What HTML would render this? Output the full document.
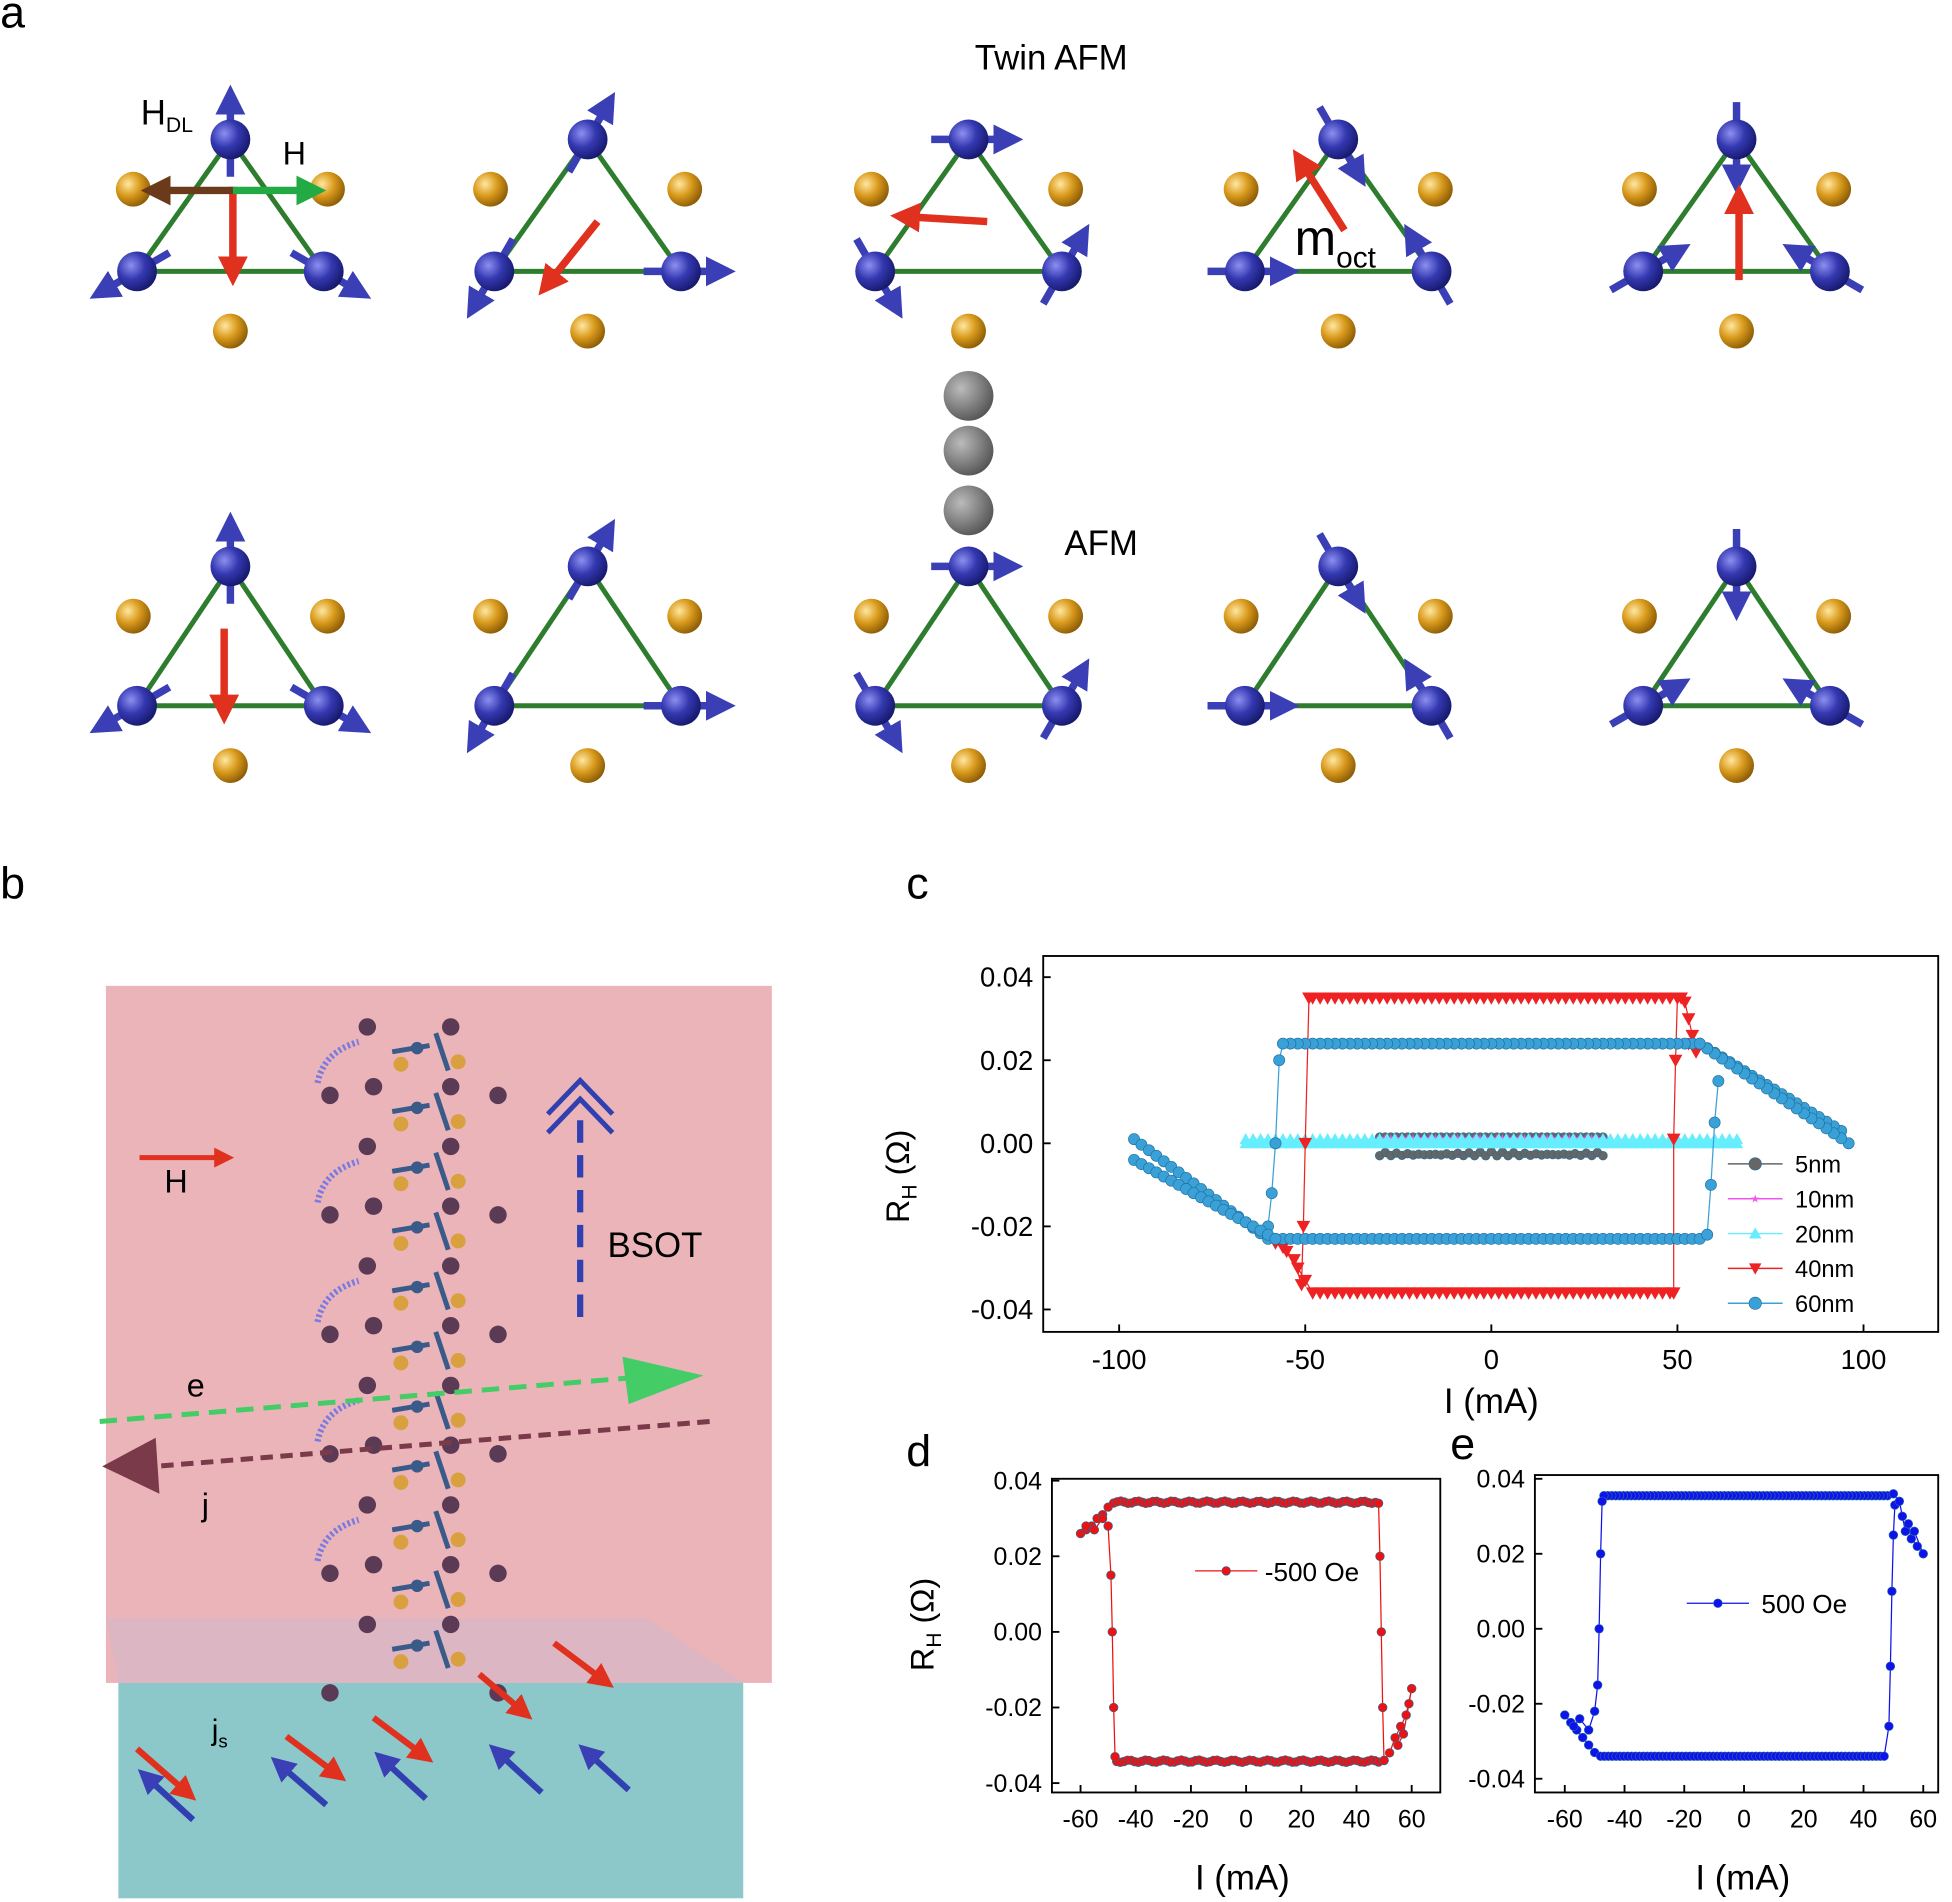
<!DOCTYPE html>
<html><head><meta charset="utf-8"><style>
html,body{margin:0;padding:0;background:#fff;}
svg{display:block;font-family:"Liberation Sans",Arial,sans-serif;}
</style></head><body>
<svg id="s" width="1952" height="1902" viewBox="0 0 1568 1528" xmlns="http://www.w3.org/2000/svg">
<defs>
<radialGradient id="gold" cx="0.35" cy="0.35" r="0.7"><stop offset="0" stop-color="#ffe7a0"/><stop offset="0.5" stop-color="#d99a1c"/><stop offset="1" stop-color="#8a5a05"/></radialGradient>
<radialGradient id="blue" cx="0.35" cy="0.35" r="0.7"><stop offset="0" stop-color="#8c8ff0"/><stop offset="0.5" stop-color="#3438b0"/><stop offset="1" stop-color="#15186a"/></radialGradient>
<radialGradient id="gray" cx="0.35" cy="0.35" r="0.7"><stop offset="0" stop-color="#bbb"/><stop offset="1" stop-color="#555"/></radialGradient>
<marker id="ab" markerWidth="4" markerHeight="4" refX="2" refY="2" orient="auto"><path d="M0,0L4,2L0,4z" fill="#3a3fb5"/></marker>
<marker id="ar" markerWidth="4" markerHeight="4" refX="2" refY="2" orient="auto"><path d="M0,0L4,2L0,4z" fill="#e0301e"/></marker>
<marker id="ag" markerWidth="4" markerHeight="4" refX="2" refY="2" orient="auto"><path d="M0,0L4,2L0,4z" fill="#22aa44"/></marker>
<marker id="abr" markerWidth="4" markerHeight="4" refX="2" refY="2" orient="auto"><path d="M0,0L4,2L0,4z" fill="#6b3a1a"/></marker>
</defs>
<g id="a"></g>
<text x="0" y="22" font-size="36">a</text>
<text x="783" y="56" font-size="28">Twin AFM</text>
<text x="855" y="446" font-size="28">AFM</text>
<text x="113" y="100" font-size="28">H<tspan font-size="17" dy="6">DL</tspan></text>
<text x="227" y="132" font-size="26">H</text>
<text x="1040" y="205" font-size="40">m<tspan font-size="24" dy="10">oct</tspan></text>

<text x="0" y="722" font-size="36">b</text>
<rect x="85" y="792" width="535" height="560" fill="#e7a7ad" opacity="0.85"/>
<rect x="95" y="1352" width="502" height="173" fill="#8cc7c9"/>
<polygon points="95,1352 597,1352 520,1300 85,1300" fill="#d8b7c4" opacity="0.8"/>
<g id="b"></g>
<text x="488" y="1010" font-size="28">BSOT</text>
<text x="132" y="958" font-size="26">H</text>
<text x="150" y="1122" font-size="26">e</text>
<text x="162" y="1218" font-size="26">j</text>
<text x="170" y="1398" font-size="24">j<tspan font-size="15" dy="6">s</tspan></text>
<line x1="112" y1="930" x2="180" y2="930" stroke="#e0301e" stroke-width="4" marker-end="url(#ar)"/>
<line x1="80" y1="1142" x2="530" y2="1105" stroke="#44cc66" stroke-width="4" stroke-dasharray="14,8"/>
<polygon points="500,1090 565,1105 505,1128" fill="#44cc66"/>
<line x1="570" y1="1142" x2="125" y2="1178" stroke="#7a3a4a" stroke-width="4" stroke-dasharray="10,6"/>
<polygon points="82,1178 125,1155 128,1200" fill="#7a3a4a"/>
<line x1="466" y1="1058" x2="466" y2="900" stroke="#3040b0" stroke-width="5" stroke-dasharray="18,10"/>
<path d="M440,895 L466,868 L492,895 M440,910 L466,883 L492,910" stroke="#3040b0" stroke-width="4" fill="none"/>

<text x="728" y="722" font-size="36">c</text>
<rect x="838" y="768" width="719" height="302" fill="none" stroke="#000" stroke-width="1.5"/>
<g id="c"></g>
<text x="710" y="925" font-size="26" transform="rotate(-90 730 925)" text-anchor="middle">R<tspan font-size="17" dy="6">H</tspan><tspan dy="-6"> (Ω)</tspan></text>
<text x="1198" y="1135" font-size="28" text-anchor="middle">I (mA)</text>

<text x="728" y="1178" font-size="36">d</text>
<rect x="845" y="1188" width="312" height="252" fill="none" stroke="#000" stroke-width="1.5"/>
<g id="d"></g>
<text x="745" y="1300" font-size="26" transform="rotate(-90 750 1300)" text-anchor="middle">R<tspan font-size="17" dy="6">H</tspan><tspan dy="-6"> (Ω)</tspan></text>
<text x="998" y="1518" font-size="28" text-anchor="middle">I (mA)</text>

<text x="1165" y="1172" font-size="36">e</text>
<rect x="1233" y="1185" width="324" height="255" fill="none" stroke="#000" stroke-width="1.5"/>
<g id="e"></g>
<text x="1400" y="1518" font-size="28" text-anchor="middle">I (mA)</text>
</svg>
<script>
var NS="http://www.w3.org/2000/svg";
function el(p,t,a,txt){var e=document.createElementNS(NS,t);for(var k in a)e.setAttribute(k,a[k]);if(txt!==undefined)e.textContent=txt;p.appendChild(e);return e;}
var A=document.getElementById('a');
var cols=[185,472,778,1075,1395];
function tri(cx,ay,by,spin){
 el(A,'polygon',{points:(cx)+','+ay+' '+(cx-75)+','+by+' '+(cx+75)+','+by,fill:'none',stroke:'#2e7d2e','stroke-width':4});
 el(A,'circle',{cx:cx-78,cy:ay+40,r:14,fill:'url(#gold)'});
 el(A,'circle',{cx:cx+78,cy:ay+40,r:14,fill:'url(#gold)'});
 el(A,'circle',{cx:cx,cy:by+48,r:14,fill:'url(#gold)'});
 var pts=[[cx,ay],[cx-75,by],[cx+75,by]];
 var base=[-90,150,30];
 for(var i=0;i<3;i++){
  var ang=(base[i]+spin*(i==0?1:-1))*Math.PI/180;
  var x=pts[i][0],y=pts[i][1];
  el(A,'line',{x1:x-30*Math.cos(ang),y1:y-30*Math.sin(ang),x2:x+32*Math.cos(ang),y2:y+32*Math.sin(ang),stroke:'#3a3fb5','stroke-width':6,'marker-end':'url(#ab)'});
  el(A,'circle',{cx:x,cy:y,r:16,fill:'url(#blue)'});
 }
}
var spins=[0,30,90,150,180];
for(var i=0;i<5;i++){tri(cols[i],112,218,spins[i]);tri(cols[i],455,567,spins[i]);}
[318,362,410].forEach(function(y){el(A,'circle',{cx:778,cy:y,r:20,fill:'url(#gray)'});});
var reds=[[187,150,187,218],[480,178,440,228],[793,178,727,174],[1080,185,1045,130],[1397,225,1397,160],[180,505,180,570]];
reds.forEach(function(r){el(A,'line',{x1:r[0],y1:r[1],x2:r[2],y2:r[3],stroke:'#e0301e','stroke-width':6,'marker-end':'url(#ar)'});});
el(A,'line',{x1:187,y1:153,x2:250,y2:153,stroke:'#22aa44','stroke-width':6,'marker-end':'url(#ag)'});
el(A,'line',{x1:187,y1:153,x2:125,y2:153,stroke:'#6b3a1a','stroke-width':6,'marker-end':'url(#abr)'});

var B=document.getElementById('b');
for(var k=0;k<11;k++){
 var y=825+k*48;
 el(B,'circle',{cx:(k%2?300:295),cy:y,r:7,fill:'#5a3a55'});
 el(B,'circle',{cx:362,cy:y,r:7,fill:'#5a3a55'});
 el(B,'circle',{cx:322,cy:y+30,r:6,fill:'#d9a040'});
 el(B,'circle',{cx:368,cy:y+28,r:6,fill:'#d9a040'});
 el(B,'line',{x1:315,y1:y+20,x2:345,y2:y+15,stroke:'#3a5a8a','stroke-width':4});
 el(B,'circle',{cx:335,cy:y+17,r:5,fill:'#3a5a8a'});
 el(B,'line',{x1:350,y1:y+5,x2:360,y2:y+35,stroke:'#3a5a8a','stroke-width':4});
 if(k%2==0){el(B,'circle',{cx:265,cy:y+55,r:7,fill:'#5a3a55'});el(B,'circle',{cx:400,cy:y+55,r:7,fill:'#5a3a55'});}
 if(k<9&&k%2==0) el(B,'path',{d:'M255,'+(y+45)+' Q260,'+(y+20)+' 288,'+(y+12),stroke:'#7a7ae0','stroke-width':5,fill:'none','stroke-dasharray':'2,2'});
}
[[110,1405,150,1440,'#e0301e'],[155,1462,118,1428,'#3040b0'],[230,1395,270,1425,'#e0301e'],[262,1450,225,1418,'#3040b0'],[300,1380,340,1410,'#e0301e'],[342,1445,308,1414,'#3040b0'],[385,1345,420,1375,'#e0301e'],[435,1440,400,1408,'#3040b0'],[445,1320,485,1350,'#e0301e'],[505,1438,472,1408,'#3040b0']].forEach(function(a){
 el(B,'line',{x1:a[0],y1:a[1],x2:a[2],y2:a[3],stroke:a[4],'stroke-width':5,'marker-end':a[4]=='#e0301e'?'url(#ar)':'url(#ab)'});
});

function mk(g,sx,sy,series,shape,color,sz){
 var d='';series.forEach(function(p,i){d+=(i?'L':'M')+sx(p[0]).toFixed(1)+','+sy(p[1]).toFixed(1);});
 el(g,'path',{d:d,fill:'none',stroke:color,'stroke-width':1});
 series.forEach(function(p){var x=sx(p[0]),y=sy(p[1]);marker(g,x,y,shape,color,sz);});
}
function marker(g,x,y,shape,color,sz){
 if(shape=='c')el(g,'circle',{cx:x,cy:y,r:sz,fill:color,stroke:'#1f6f99','stroke-width':0.5});
 else if(shape=='v')el(g,'polygon',{points:(x-sz)+','+(y-sz*0.8)+' '+(x+sz)+','+(y-sz*0.8)+' '+x+','+(y+sz),fill:color});
 else if(shape=='^')el(g,'polygon',{points:(x-sz)+','+(y+sz*0.8)+' '+(x+sz)+','+(y+sz*0.8)+' '+x+','+(y-sz),fill:color});
 else if(shape=='s')el(g,'text',{x:x,y:y+sz,'font-size':sz*3,'text-anchor':'middle',fill:color},'★');
}
function rng(a,b,st,f){var r=[];for(var x=a;(st>0?x<=b:x>=b);x+=st)r.push([x,f(x)]);return r;}
function axes(g,sx,sy,xt,yt,fx,fy,x0,x1,y0,y1,fs){
 xt.forEach(function(v){var x=sx(v);el(g,'line',{x1:x,y1:y1,x2:x,y2:y1-6,stroke:'#000','stroke-width':1.5});el(g,'text',{x:x,y:y1+fs+8,'font-size':fs,'text-anchor':'middle'},String(v));});
 yt.forEach(function(v){var y=sy(v);el(g,'line',{x1:x0,y1:y,x2:x0+6,y2:y,stroke:'#000','stroke-width':1.5});el(g,'text',{x:x0-8,y:y+fs*0.35,'font-size':fs,'text-anchor':'end'},v.toFixed(2));});
}
var C=document.getElementById('c');
var cx=function(v){return 1198+v*2.99;}, cy=function(v){return 918.5-v*3337;};
axes(C,cx,cy,[-100,-50,0,50,100],[0.04,0.02,0,-0.02,-0.04],0,0,838,1557,768,1070,22);
mk(C,cx,cy,rng(-30,30,1.5,function(x){return -0.002-0.001*Math.abs(Math.sin(x));}),'c','#666',3.5);
mk(C,cx,cy,rng(-30,30,1.5,function(){return 0.0015;}),'c','#666',3.5);
mk(C,cx,cy,rng(-30,30,1.5,function(){return 0.0012;}),'s','#ee55ee',3);
mk(C,cx,cy,rng(-66,66,2,function(){return 0.001;}),'^','#66eeff',5);
mk(C,cx,cy,rng(66,-66,-2,function(){return 0.0;}),'^','#66eeff',5);
var r40=[[-58,-0.024],[-55,-0.026],[-52,-0.03],[-50,-0.033]].concat(rng(-48,48,2,function(){return -0.036;}),[[49,-0.036],[49,0.001],[49.5,0.02],[50,0.035]]);
var r40b=rng(50,-48,-2,function(){return 0.035;}).concat([[-49,0.035],[-50,0.0],[-50.5,-0.02],[-51,-0.034],[-53,-0.028],[-56,-0.025]]);
var r40c=[[51,0.035],[52,0.034],[53,0.03],[54,0.026],[55,0.022],[53,0.024]];
mk(C,cx,cy,r40,'v','#ee2222',5.5);mk(C,cx,cy,r40b,'v','#ee2222',5.5);mk(C,cx,cy,r40c,'v','#ee2222',5.5);
var l1=rng(-96,-60,2,function(x){return 0.001+(x+96)*(-0.024/36);}).concat(rng(-58,56,2,function(){return -0.023;}),[[58,-0.022],[59,-0.01],[60,0.005],[61,0.015]]);
var l2=rng(94,56,-2,function(x){return 0.003+(94-x)*(0.021/38);}).concat(rng(54,-56,-2,function(){return 0.024;}),[[-57,0.02],[-58,0.0],[-59,-0.012],[-60,-0.02]]);
var l3=rng(-96,-58,2,function(x){return -0.004+(x+96)*(-0.019/38);});
var l4=rng(96,56,-2,function(x){return 0.0+(96-x)*(0.024/40);});
mk(C,cx,cy,l1,'c','#3aa0d8',4.5);mk(C,cx,cy,l2,'c','#3aa0d8',4.5);mk(C,cx,cy,l3,'c','#3aa0d8',4.5);mk(C,cx,cy,l4,'c','#3aa0d8',4.5);
var leg=[['5nm','c','#666'],['10nm','s','#ee55ee'],['20nm','^','#66eeff'],['40nm','v','#ee2222'],['60nm','c','#3aa0d8']];
leg.forEach(function(l,i){var y=935+i*28;el(C,'line',{x1:1388,y1:y,x2:1432,y2:y,stroke:l[2],'stroke-width':1.2});marker(C,1410,y,l[1],l[2],l[1]=='s'?3:5);el(C,'text',{x:1442,y:y+7,'font-size':19},l[0]);});
var D=document.getElementById('d');
var dx=function(v){return 1001+v*2.217;}, dy=function(v){return 1311-v*3037;};
axes(D,dx,dy,[-60,-40,-20,0,20,40,60],[0.04,0.02,0,-0.02,-0.04],0,0,845,1157,1188,1440,20);
var d1=[[-60,0.026],[-58,0.027],[-56,0.028],[-54,0.03],[-52,0.031],[-50,0.033]].concat(rng(-48,47,1.3,function(x){return 0.0343-0.0003*Math.sin(x);}),[[48,0.034],[48.5,0.02],[49,0.0],[49.5,-0.02],[50,-0.034]]);
var d2=rng(48,-47,-1.3,function(x){return -0.0342+0.0003*Math.sin(x);}).concat([[-47.5,-0.033],[-48,-0.02],[-48.5,0.0],[-49,0.015],[-50,0.028],[-52,0.03],[-55,0.027],[-58,0.028]]);
var d3=[[50,-0.034],[52,-0.032],[54,-0.028],[56,-0.025],[58,-0.022],[60,-0.015],[59,-0.019],[57,-0.027],[55,-0.03]];
mk(D,dx,dy,d1,'c','#ee1111',3.5);mk(D,dx,dy,d2,'c','#ee1111',3.5);mk(D,dx,dy,d3,'c','#ee1111',3.5);
el(D,'line',{x1:960,y1:1262,x2:1010,y2:1262,stroke:'#ee1111','stroke-width':1});marker(D,985,1262,'c','#ee1111',3.5);
el(D,'text',{x:1016,y:1270,'font-size':21},'-500 Oe');
var E=document.getElementById('e');
var ex=function(v){return 1401+v*2.4;}, ey=function(v){return 1308.5-v*3012;};
axes(E,ex,ey,[-60,-40,-20,0,20,40,60],[0.04,0.02,0,-0.02,-0.04],0,0,1233,1557,1185,1440,20);
var e1=[[-60,-0.023],[-58,-0.025],[-56,-0.027],[-54,-0.029],[-52,-0.031]].concat([[-50,-0.033]],rng(-48,48,1.3,function(){return -0.034;}),[[48.5,-0.026],[49,-0.01],[49.5,0.01],[50,0.025],[50.5,0.033]]);
var e2=rng(48,-47,-1.3,function(){return 0.0355;}).concat([[-47.5,0.034],[-48,0.02],[-48.5,0.0],[-49,-0.015],[-50,-0.022],[-52,-0.027],[-55,-0.024],[-57,-0.026]]);
var e3=[[50,0.036],[52,0.034],[53,0.03],[54,0.026],[55,0.028],[56,0.024],[58,0.022],[60,0.02],[57,0.026]];
mk(E,ex,ey,e1,'c','#1111ee',3.5);mk(E,ex,ey,e2,'c','#1111ee',3.5);mk(E,ex,ey,e3,'c','#1111ee',3.5);
el(E,'line',{x1:1355,y1:1288,x2:1405,y2:1288,stroke:'#1111ee','stroke-width':1});marker(E,1380,1288,'c','#1111ee',3.5);
el(E,'text',{x:1415,y:1296,'font-size':21},'500 Oe');
</script>
</body></html>
